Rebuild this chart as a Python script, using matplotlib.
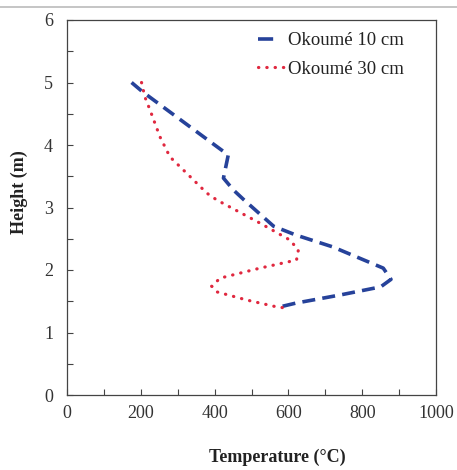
import matplotlib
matplotlib.use("Agg")
import matplotlib.pyplot as plt
from matplotlib.lines import Line2D
from matplotlib.ticker import MultipleLocator

# Data (temperature in °C, height in m)
t10 = [175, 205, 437, 424, 451, 480, 560, 620, 720, 857, 878, 850, 740, 620, 570]
h10 = [5.00, 4.85, 3.84, 3.47, 3.28, 3.12, 2.70, 2.56, 2.37, 2.03, 1.85, 1.73, 1.60, 1.47, 1.40]

t30 = [202, 211, 225, 252, 279, 324, 379, 406, 523, 604, 627, 622, 523, 415, 392, 406, 487, 568, 595]
h30 = [5.00, 4.77, 4.56, 4.13, 3.81, 3.55, 3.23, 3.12, 2.75, 2.48, 2.32, 2.16, 2.03, 1.87, 1.74, 1.65, 1.52, 1.41, 1.39]

labels = ["Okoumé 10 cm", "Okoumé 30 cm"]

plt.rcParams['font.family'] = ['Liberation Serif', 'DejaVu Serif']

blue = '#26429a'
red = '#e0283f'

fig = plt.figure(figsize=(4.57, 4.70), dpi=100)
W, H = 457, 470
ax = fig.add_axes([67 / W, 1 - 395 / H, (436 - 67) / W, (395 - 20) / H])

ax.plot(t10, h10, color=blue, lw=2.6, linestyle=(0, (3.6, 2.0)), dash_capstyle='butt')
ax.plot(t30, h30, color=red, lw=2.3, linestyle=(0, (0.1, 2.5)), dash_capstyle='round')

ax.set_xlim(0, 1000)
ax.set_ylim(0, 6)
ax.xaxis.set_major_locator(MultipleLocator(200))
ax.xaxis.set_minor_locator(MultipleLocator(100))
ax.yaxis.set_major_locator(MultipleLocator(1))
ax.yaxis.set_minor_locator(MultipleLocator(0.5))
ax.tick_params(which='both', direction='in', length=4, width=0.8, color='#444444',
               labelsize=13, labelcolor='#333333')
ax.tick_params(axis='x', pad=7)
ax.tick_params(axis='y', pad=10)
for s in ax.spines.values():
    s.set_color('#444444')
    s.set_linewidth(0.9)

ax.set_xlabel('Temperature (°C)', fontsize=13, fontweight='bold', color='#222222', va='center')
ax.xaxis.set_label_coords((277.5 - 67) / 369, (395 - 457) / 375)
ax.set_ylabel('Height (m)', fontsize=13, fontweight='bold', color='#222222', va='center')
ax.yaxis.set_label_coords((19 - 67) / 369, (395 - 192) / 375)

handles = [Line2D([], [], color=blue, lw=2.6, linestyle=(0, (4.2, 10)), dash_capstyle='butt'),
           Line2D([], [], color=red, lw=2.3, linestyle=(0, (0.1, 2.5)), dash_capstyle='round')]
leg = ax.legend(handles, labels, loc='upper left', frameon=False, fontsize=13.5,
                handlelength=1.45, handletextpad=0.15, borderaxespad=0.0, borderpad=0.0,
                labelspacing=0.6, bbox_to_anchor=((258 - 67) / 369, (395 - 32) / 375))
for t in leg.get_texts():
    t.set_color('#222222')

fig.add_artist(Line2D([0, 1], [1 - 7 / H, 1 - 7 / H], color='#bbbbbb', lw=1.2))

fig.savefig('out.png', dpi=100)
